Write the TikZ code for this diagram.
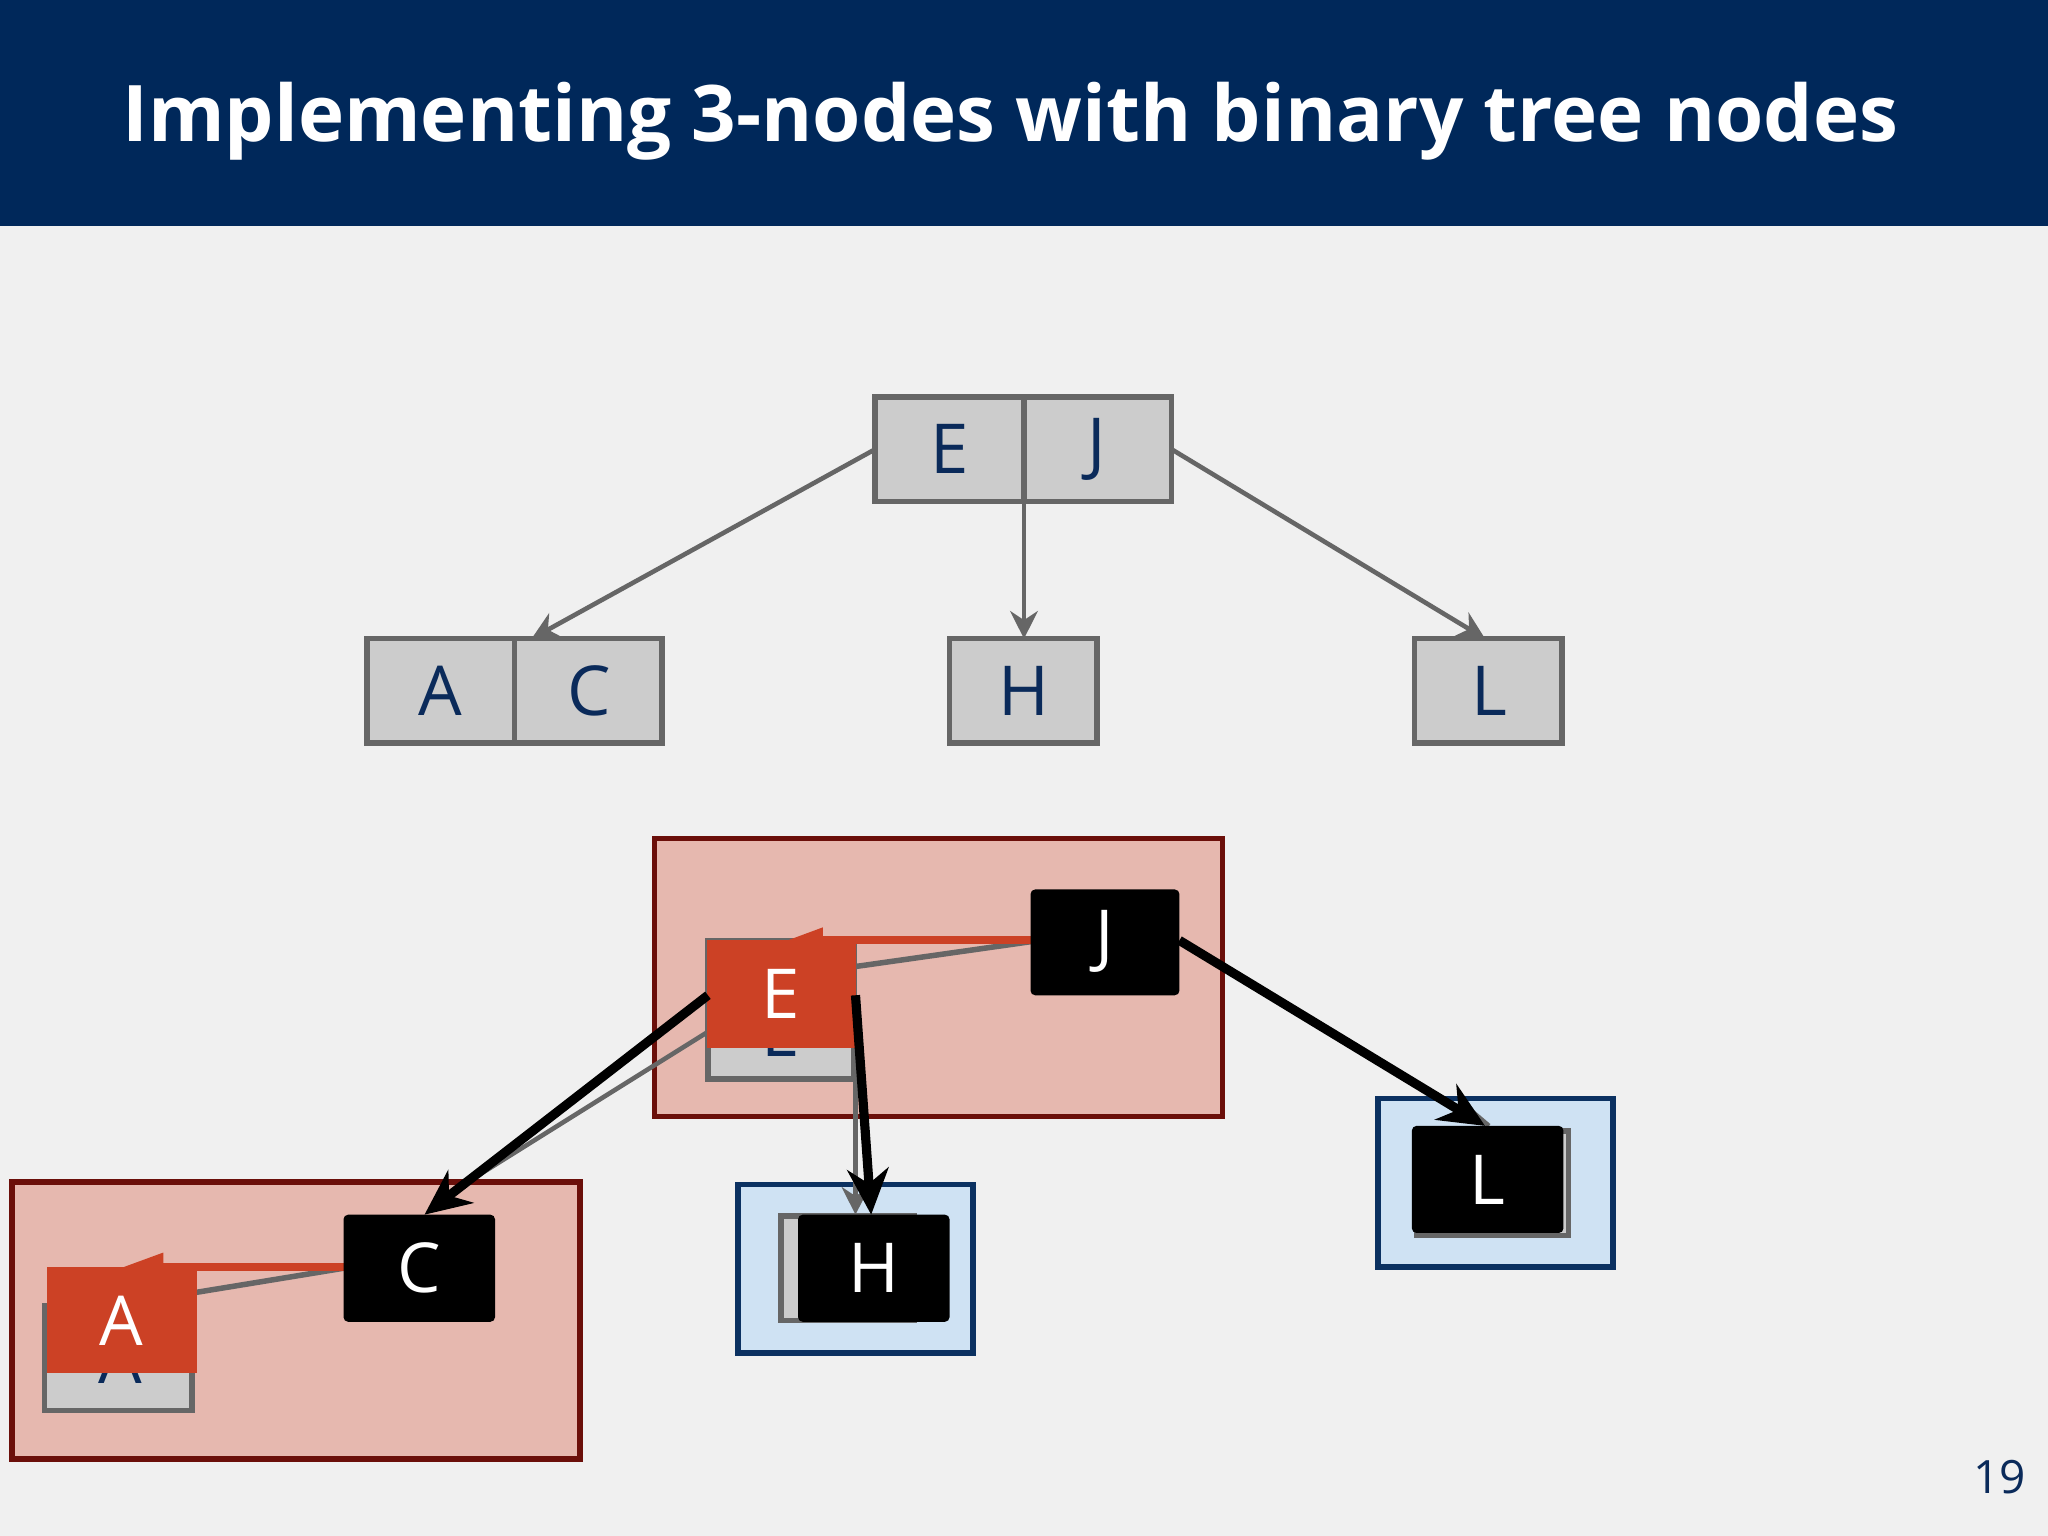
\documentclass[tikz,border=0pt]{standalone}
\usepackage{fontspec}
\setmainfont{Open Sans}
\usetikzlibrary{arrows.meta}
\definecolor{bg}{HTML}{F0F0F0}
\definecolor{navy}{HTML}{00285A}
\definecolor{txt}{HTML}{0A2A5A}
\definecolor{boxg}{HTML}{CCCCCC}
\definecolor{lineg}{HTML}{666666}
\definecolor{pinkf}{HTML}{E6B8AF}
\definecolor{pinkd}{HTML}{6B0F0A}
\definecolor{bluef}{HTML}{CFE2F3}
\definecolor{blued}{HTML}{0B3161}
\definecolor{redn}{HTML}{CC4125}
\tikzset{
 px/.style={x=0.01cm,y=-0.01cm},
 gbox/.style={draw=lineg,fill=boxg,line width=1.2pt},
 rbox/.style={draw=pinkd,fill=pinkf,line width=1.2pt},
 bbox/.style={draw=blued,fill=bluef,line width=1.2pt},
 lab/.style={text=txt,font=\fontsize{15}{15}\selectfont},
 wlab/.style={text=white,font=\fontsize{15}{15}\selectfont},
 garr/.style={draw=lineg,line width=1pt,-{Stealth[length=6pt,width=6pt]}},
 barr/.style={draw=black,line width=2pt,-{Stealth[length=10pt,width=9pt]}},
}
\begin{document}
\begin{tikzpicture}[px]
\useasboundingbox (0,0) rectangle (1568,1176);
\fill[bg] (0,0) rectangle (1568,1176);
\fill[navy] (0,0) rectangle (1568,173);
\node[anchor=base west,text=white,font=\fontsize{17}{17}\bfseries\selectfont,inner sep=0] (title) at (93,108) {Implementing 3-nodes with binary tree nodes};
\node[text=txt,font=\fontsize{10}{10}\selectfont] (pg) at (1531,1131) {19};
% top tree
\draw[gbox] (670,304) rectangle (897,384);
\draw[lineg,line width=1.2pt] (784,304) -- (784,384);
\node[lab] (tE) at (727,344) {E};
\node[lab] (tJ) at (840,344) {J};
\draw[gbox] (281,489) rectangle (507,569);
\draw[lineg,line width=1.2pt] (394,489) -- (394,569);
\node[lab] (tA) at (337,529) {A};
\node[lab] (tC) at (451,529) {C};
\draw[gbox] (727,489) rectangle (840,569);
\node[lab] (tH) at (784,529) {H};
\draw[gbox] (1083,489) rectangle (1196,569);
\node[lab] (tL) at (1140,529) {L};
\coordinate (ejl) at (670,344); \coordinate (ejm) at (784,384); \coordinate (ejr) at (897,344);
\coordinate (act) at (407,489); \coordinate (ht) at (784,489); \coordinate (lt) at (1137,489);
\draw[garr] (ejl) -- (act);
\draw[garr] (ejm) -- (ht);
\draw[garr] (ejr) -- (lt);
% bottom containers
\draw[rbox] (501,642) rectangle (936,855);
\draw[rbox] (9,905) rectangle (444,1117);
\draw[bbox] (565,907) rectangle (745,1036);
\draw[bbox] (1055,841) rectangle (1235,970);
% gray back boxes
\draw[gbox] (542,720) rectangle (654,826);
\node[lab] (gE) at (598,790) {E};
\draw[gbox] (34,1000) rectangle (147,1080);
\node[lab] (gA) at (92,1040) {A};
\draw[gbox] (598,931) rectangle (700,1011);
\draw[gbox] (1085,866) rectangle (1201,946);
% gray links
\coordinate (g1) at (542,790); \coordinate (g1t) at (350,910);
\coordinate (g2) at (655,790); \coordinate (g2t) at (655,930);
\draw[lineg,line width=1pt] (g1) -- (g1t);
\draw[garr] (g2) -- (g2t);
\coordinate (gl1) at (1120,845); \coordinate (gl2) at (1140,862);
\draw[lineg,line width=1pt] (gl1) -- (gl2);
\coordinate (ge) at (655,740); \coordinate (gj) at (789,721);
\draw[lineg,line width=1.2pt] (ge) -- (gj);
\coordinate (ga) at (147,990); \coordinate (gc) at (263,971);
\draw[lineg,line width=1.2pt] (ga) -- (gc);
% red nodes
\fill[redn] (541,720) rectangle (655,802);
\node[wlab] (E) at (598,761) {E};
\fill[redn] (603,720) -- (630,710) -- (630,724) -- cycle;
\fill[redn] (630,717) rectangle (789,723);
\fill[redn] (36,970) rectangle (151,1051);
\node[wlab] (A) at (93,1011) {A};
\fill[redn] (95,970) -- (125,959) -- (125,974) -- cycle;
\fill[redn] (125,967) rectangle (263,973);
% black nodes
\fill[black,rounded corners=1pt] (789,681) rectangle (903,762);
\node[wlab] (J) at (846,721) {J};
\fill[black,rounded corners=1pt] (263,930) rectangle (379,1012);
\node[wlab] (C) at (321,971) {C};
\fill[black,rounded corners=1pt] (611,930) rectangle (727,1012);
\node[wlab] (H) at (669,971) {H};
\fill[black,rounded corners=1pt] (1081,862) rectangle (1197,944);
\node[wlab] (L) at (1139,903) {L};
% black links
\coordinate (e1) at (542,762); \coordinate (c1) at (325,930);
\coordinate (e2) at (655,762); \coordinate (h1) at (667,930);
\coordinate (j1) at (903,720); \coordinate (l1) at (1137,862);
\draw[barr] (e1) -- (c1);
\draw[barr] (e2) -- (h1);
\draw[barr] (j1) -- (l1);
\end{tikzpicture}
\end{document}
